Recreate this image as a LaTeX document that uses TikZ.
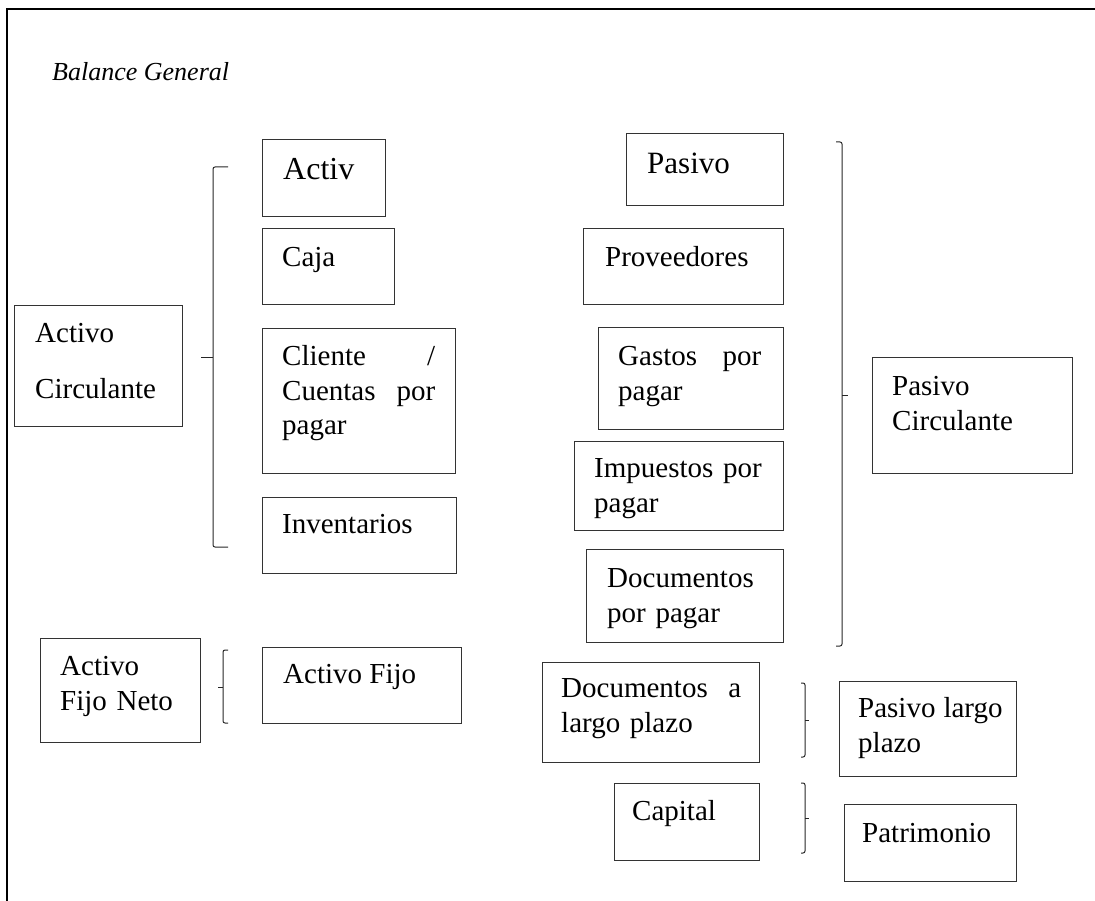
\documentclass[tikz,border=0pt]{standalone}
\usepackage{fontspec}
\setmainfont{Liberation Serif}

\tikzset{
	cuenta/.style={draw=black!80, line width=1.2pt, anchor=north west, inner sep=0pt},
	texto/.style={anchor=base west, inner sep=0pt, font=\fontsize{29}{35}\selectfont},
	bloque/.style={texto, align=left},
	llave/.style={draw=black!85, line width=1pt, rounded corners=2pt},
}

\begin{document}
\begin{tikzpicture}[x=1pt, y=-1pt]
			\useasboundingbox (0,0) rectangle (1095,901);
			\draw[line width=2.2pt] (1095,9) -- (7,9) -- (7,901);
			
			\node[texto, font=\fontsize{26}{30}\selectfont\itshape] (titulo) at (52,81) {Balance General};
			
			% activo
			\node[cuenta, minimum width=168, minimum height=121] (actcirc) at (14,305) {};
			\node[bloque, text width=140pt, font=\fontsize{29}{56}\selectfont] (actcirc-t) at (35,342) {Activo\\Circulante};
			
			\node[cuenta, minimum width=123, minimum height=77] (activ) at (262,139) {};
			\node[texto, font=\fontsize{32}{38}\selectfont] (activ-t) at (283,180) {Activ};
			
			\node[cuenta, minimum width=132, minimum height=76] (caja) at (262,228) {};
			\node[texto] (caja-t) at (282,267) {Caja};
			
			\node[cuenta, minimum width=193, minimum height=145] (cliente) at (262,328) {};
			\node[bloque, text width=153pt] (cliente-t) at (282,365) {Cliente\hfill/\\Cuentas\hfill por\\pagar};
			
			\node[cuenta, minimum width=194, minimum height=76] (invent) at (262,497) {};
			\node[texto] (invent-t) at (282,533) {Inventarios};
			
			\draw[llave] (228,167) -- (213,167) -- (213,547) -- (228,547);
			\draw[llave] (213,357) -- (201,357);
			
			% activo fijo
			\node[cuenta, minimum width=160, minimum height=104] (fijoneto) at (40,638) {};
			\node[bloque, text width=130pt] (fijoneto-t) at (60,675) {Activo\\Fijo Neto};
			
			\node[cuenta, minimum width=199, minimum height=76] (actfijo) at (262,647) {};
			\node[texto] (actfijo-t) at (283,683) {Activo Fijo};
			
			\draw[llave] (228,650) -- (223,650) -- (223,723) -- (228,723);
			\draw[llave] (223,687) -- (218,687);
			
			% pasivo
			\node[cuenta, minimum width=157, minimum height=72] (pasivo) at (626,133) {};
			\node[texto, font=\fontsize{31}{36}\selectfont] (pasivo-t) at (647,174) {Pasivo};
			
			\node[cuenta, minimum width=200, minimum height=76] (provee) at (583,228) {};
			\node[texto] (provee-t) at (605,267) {Proveedores};
			
			\node[cuenta, minimum width=185, minimum height=102] (gastos) at (598,327) {};
			\node[bloque, text width=143pt] (gastos-t) at (618,365) {Gastos\hfill por\\pagar};
			
			\node[cuenta, minimum width=209, minimum height=89] (impuest) at (574,441) {};
			\node[bloque, text width=175pt] (impuest-t) at (594,477) {Impuestos por\\pagar};
			
			\node[cuenta, minimum width=197, minimum height=93] (docpagar) at (586,549) {};
			\node[bloque, text width=170pt] (docpagar-t) at (607,587) {Documentos\\por pagar};
			
			\node[cuenta, minimum width=200, minimum height=116] (pascirc) at (872,357) {};
			\node[bloque, text width=170pt] (pascirc-t) at (892,395) {Pasivo\\Circulante};
			
			\draw[llave] (836,142) -- (842,142) -- (842,646) -- (836,646);
			\draw[llave] (842,395) -- (848,395);
			
			% largo plazo y capital
			\node[cuenta, minimum width=217, minimum height=100] (doclargo) at (542,662) {};
			\node[bloque, text width=180pt] (doclargo-t) at (561,697) {Documentos\hfill a\\largo plazo};
			
			\node[cuenta, minimum width=177, minimum height=95] (paslargo) at (839,681) {};
			\node[bloque, text width=150pt] (paslargo-t) at (858,717) {Pasivo\hspace*{8pt}largo\\plazo};
			
			\draw[llave] (801,683) -- (805,683) -- (805,757) -- (801,757);
			\draw[llave] (805,720) -- (809,720);
			
			\node[cuenta, minimum width=145, minimum height=77] (capital) at (614,783) {};
			\node[texto] (capital-t) at (632,820) {Capital};
			
			\node[cuenta, minimum width=172, minimum height=77] (patrim) at (844,804) {};
			\node[texto] (patrim-t) at (862,842) {Patrimonio};
			
			\draw[llave] (801,783) -- (805,783) -- (805,853) -- (801,853);
			\draw[llave] (805,818) -- (809,818);
			
			\end{tikzpicture}
\end{document}
